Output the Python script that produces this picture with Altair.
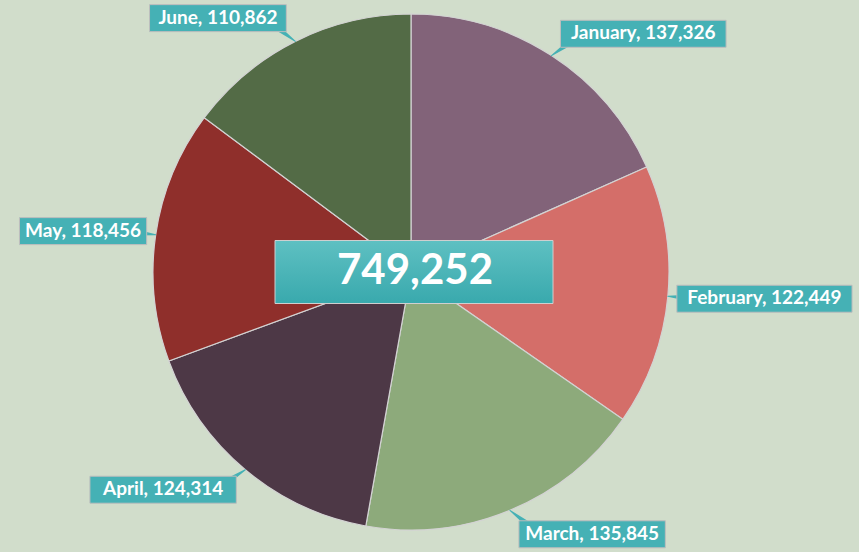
import math
import altair as alt
import pandas as pd

# ---- data ----
months = ["January", "February", "March", "April", "May", "June"]
values = [137326, 122449, 135845, 124314, 118456, 110862]
colors = ["#826379", "#D46E69", "#8DAA7B", "#4D3846", "#8F2F2B", "#536B46"]

# ---- layout ----
W, H = 859, 552
CX, CY, R = 411, 272, 258
TEAL = "#45B1B5"
FONT = "Lato"

total = sum(values)
pie_df = pd.DataFrame({"month": months, "value": values, "idx": list(range(len(months)))})

rows, trail = [], []
cum = 0
for m, v in zip(months, values):
    a = 2 * math.pi * (cum + v / 2) / total
    cum += v
    tx, ty = math.sin(a), math.cos(a)
    side = 1 if tx > 0 else -1
    label = f"{m}, {v:,}"
    w = 9.6 * len(label) + 12
    by = ty + 26 * math.cos(a) / R
    near = tx + side * 9 / R
    far = near + side * w / R
    rows.append(dict(label=label, x=min(near, far), x2=max(near, far), xc=(near + far) / 2,
                     y=by - 13.5 / R, y2=by + 13.5 / R, yc=by + 0.5 / R))
    trail.append(dict(label=label, x=near + side * 22 / R, y=by, s=9, k=0))
    trail.append(dict(label=label, x=tx, y=ty, s=0, k=1))

lab_df = pd.DataFrame(rows)
trail_df = pd.DataFrame(trail)
center_df = pd.DataFrame({"label": [f"{total:,}"], "x": [-136 / R], "x2": [142 / R],
                          "y": [-31.5 / R], "y2": [31.5 / R], "xc": [4 / R], "yc": [1.5 / R]})

xs = alt.Scale(domain=[-CX / R, (W - CX) / R], nice=False, zero=False)
ys = alt.Scale(domain=[-(H - CY) / R, CY / R], nice=False, zero=False)

pie = alt.Chart(pie_df).mark_arc(outerRadius=R, stroke="#D3D3D3", strokeWidth=1.2).encode(
    theta=alt.Theta("value:Q", stack=True),
    color=alt.Color("month:N", scale=alt.Scale(domain=months, range=colors), legend=None),
    order=alt.Order("idx:Q"),
    x=alt.value(CX),
    y=alt.value(CY),
)

pointers = alt.Chart(trail_df).mark_trail(color=TEAL).encode(
    x=alt.X("x:Q", scale=xs, axis=None),
    y=alt.Y("y:Q", scale=ys, axis=None),
    size=alt.Size("s:Q", scale=None),
    detail="label:N",
    order="k:Q",
)

boxes = alt.Chart(lab_df).mark_rect(fill=TEAL, stroke="#BDBDBD", strokeWidth=1).encode(
    x=alt.X("x:Q", scale=xs, axis=None), x2="x2:Q",
    y=alt.Y("y:Q", scale=ys, axis=None), y2="y2:Q",
)

texts = alt.Chart(lab_df).mark_text(font=FONT, fontWeight="bold", fontSize=19, color="white",
                                    baseline="middle", align="center").encode(
    x=alt.X("xc:Q", scale=xs, axis=None),
    y=alt.Y("yc:Q", scale=ys, axis=None),
    text="label:N",
)

cbox = alt.Chart(center_df).mark_rect(
    fill=alt.LinearGradient(gradient="linear", x1=0, y1=0, x2=0, y2=1,
                            stops=[alt.GradientStop(color="#5EC0C2", offset=0),
                                   alt.GradientStop(color="#39A9AD", offset=1)]),
    stroke="#CFCFCF", strokeWidth=1,
).encode(
    x=alt.X("x:Q", scale=xs, axis=None), x2="x2:Q",
    y=alt.Y("y:Q", scale=ys, axis=None), y2="y2:Q",
)

ctext = alt.Chart(center_df).mark_text(font=FONT, fontWeight="bold", fontSize=42, color="white",
                                       baseline="middle", align="center").encode(
    x=alt.X("xc:Q", scale=xs, axis=None),
    y=alt.Y("yc:Q", scale=ys, axis=None),
    text="label:N",
)

chart = alt.layer(pie, pointers, boxes, texts, cbox, ctext).properties(
    width=W, height=H, padding=0, autosize=alt.AutoSizeParams(type="none"),
    background="#D1DDCB",
).configure_view(stroke=None)

chart.save("out.html", embed_options={"renderer": "svg", "actions": False})
